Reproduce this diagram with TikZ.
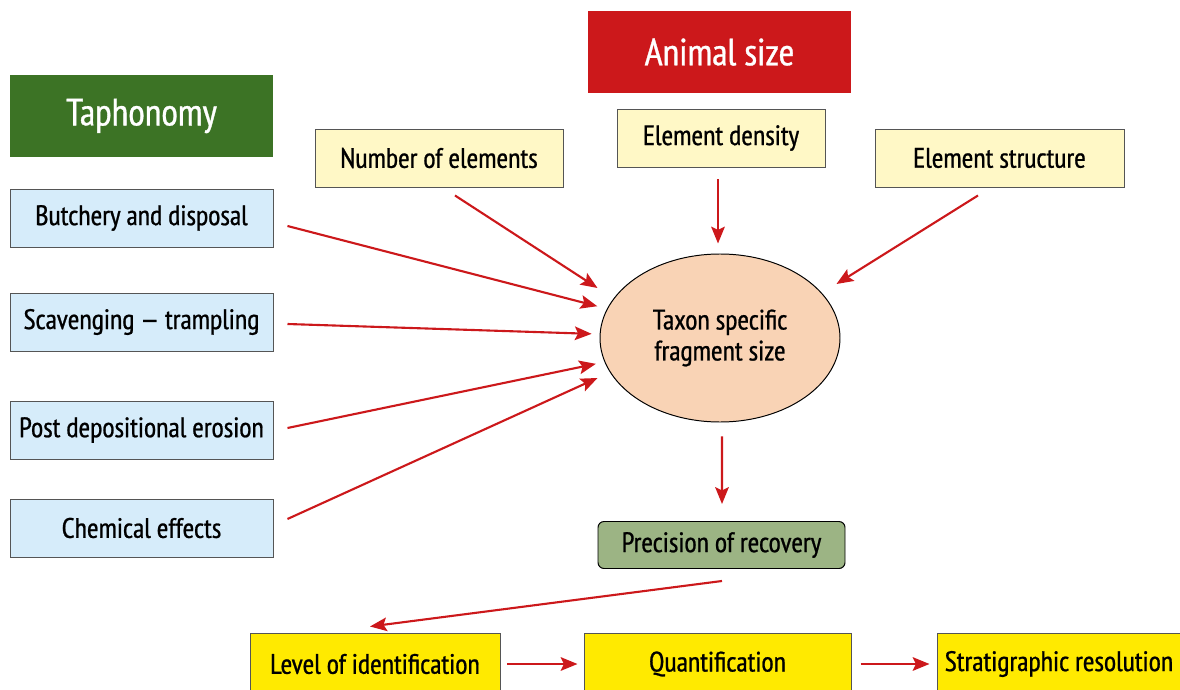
\documentclass[tikz,border=0pt]{standalone}
\usepackage{fontspec}
\setmainfont[RawFeature={embolden=0.8}]{PT Sans Narrow}
\usetikzlibrary{arrows.meta}
\usetikzlibrary{shapes.geometric}
\definecolor{taphgreen}{HTML}{3C7325}
\definecolor{sizered}{HTML}{CC181B}
\definecolor{elemyellow}{HTML}{FFF8C6}
\definecolor{taphblue}{HTML}{D6ECFA}
\definecolor{taxonpeach}{HTML}{F9D3B5}
\definecolor{recsage}{HTML}{9CB484}
\definecolor{resyellow}{HTML}{FFEA00}
\definecolor{boxgray}{HTML}{555555}
\tikzset{
  box/.style 2 args={draw=boxgray, line width=0.7pt, inner sep=0pt,
    minimum width=#1*0.025cm, minimum height=#2*0.025cm,
    font=\fontsize{20}{24}\selectfont},
  header/.style 2 args={box={#1}{#2}, draw=none, text=white,
    font=\fontsize{27}{32}\selectfont},
  arr/.style={draw=sizered, line width=1.5pt,
    -{Stealth[length=0.42cm,width=0.34cm,inset=0.08cm]}}
}
\begin{document}
\begin{tikzpicture}[x=0.025cm,y=-0.025cm]
\useasboundingbox (0,0) rectangle (1180,690);
% headings
\node[header={263}{82}, fill=taphgreen] (taph) at (141.5,116) {Taphonomy};
\node[header={263}{82}, fill=sizered] (animal) at (719.5,52) {Animal size};
% animal size factors
\node[box={248}{58}, fill=elemyellow] (number) at (439,158) {Number of elements};
\node[box={208}{58}, fill=elemyellow] (density) at (721,138) {Element density};
\node[box={249}{58}, fill=elemyellow] (structure) at (999.5,158) {Element structure};
% taphonomic factors
\foreach \n/\y/\t in {butch/218/Butchery and disposal,
  scav/322/Scavenging --- trampling,
  post/430/Post depositional erosion,
  chem/528/Chemical effects}
{\node[box={263}{58}, fill=taphblue] (\n) at (141.5,\y) {\t};}
% centre and outcomes
\node[box={240}{168}, ellipse, fill=taxonpeach, draw=black, align=center,
  font=\fontsize{20}{22}\selectfont] (taxon) at (720,338)
  {Taxon specific\\fragment size};
\node[box={247}{47}, fill=recsage, rounded corners=0.15cm, draw=black]
  (precision) at (721.5,545) {Precision of recovery};
\node[box={250}{62}, fill=resyellow] (level) at (375,664) {Level of identification};
\node[box={267}{62}, fill=resyellow] (quant) at (717.5,664) {Quantification};
\node[box={244}{62}, fill=resyellow] (strat) at (1059,664) {Stratigraphic resolution};
% connectors
\draw[arr, shorten >=0.25cm] ([shift={(14,8)}]butch.east) -- (taxon);
\draw[arr, shorten >=0.2cm] ([shift={(14,2)}]scav.east) -- (taxon);
\draw[arr, shorten >=0.22cm] ([shift={(14,-2)}]post.east) -- (taxon);
\draw[arr] ([shift={(14,-9)}]chem.east) -- ([shift={(-2,40)}]taxon.west);
\draw[arr] ([shift={(16,8)}]number.south) -- ([shift={(-2,-50)}]taxon.west);
\draw[arr] ([shift={(-3,12)}]density.south) -- ([shift={(-2,-10)}]taxon.north);
\draw[arr] ([shift={(-21.5,8)}]structure.south) -- ([shift={(-4,-54)}]taxon.east);
\draw[arr] ([shift={(2,14)}]taxon.south) -- ([shift={(0.5,-17)}]precision.north);
\draw[arr] ([shift={(0.5,12)}]precision.south) -- ([shift={(-5,-6)}]level.north);
\draw[arr, shorten <=0.175cm, shorten >=0.15cm] (level) -- (quant);
\draw[arr, shorten <=0.225cm, shorten >=0.175cm] (quant) -- (strat);
\end{tikzpicture}
\end{document}
